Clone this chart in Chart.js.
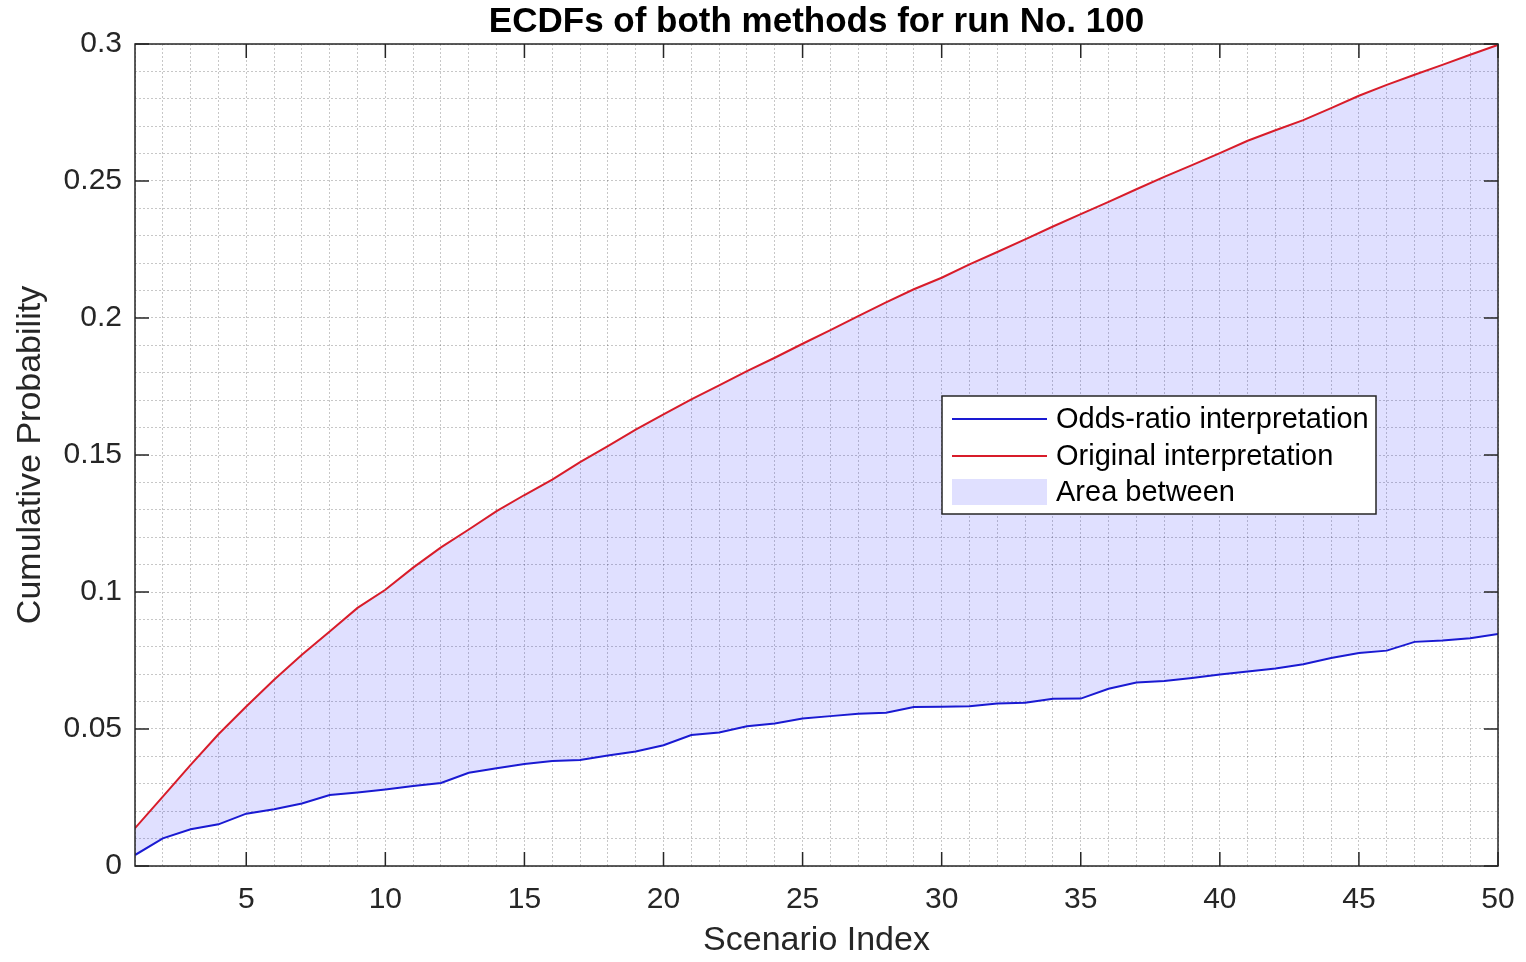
<!DOCTYPE html>
<html lang="en">
<head>
<meta charset="utf-8">
<title>ECDFs of both methods for run No. 100</title>
<script src="https://cdn.jsdelivr.net/npm/chart.js@4.4.1/dist/chart.umd.min.js"></script>
<style>
  html, body { margin: 0; padding: 0; background: #fff; }
  canvas { display: block; }
</style>
</head>
<body>
<canvas id="ecdf-chart" width="1526" height="962"></canvas>
<script>
const chartContainer = document.getElementById('ecdf-chart');

// Scenario index (x axis)
const scenarioIndex = [
    1, 2, 3, 4, 5, 6, 7, 8, 9, 10,
    11, 12, 13, 14, 15, 16, 17, 18, 19, 20,
    21, 22, 23, 24, 25, 26, 27, 28, 29, 30,
    31, 32, 33, 34, 35, 36, 37, 38, 39, 40,
    41, 42, 43, 44, 45, 46, 47, 48, 49, 50
];

// ECDF of the odds-ratio interpretation
const oddsRatioValues = [
    0.0040, 0.0101, 0.0134, 0.0152, 0.0191, 0.0207, 0.0228, 0.0259, 0.0268, 0.0279,
    0.0292, 0.0303, 0.0340, 0.0357, 0.0372, 0.0383, 0.0387, 0.0403, 0.0418, 0.0441,
    0.0478, 0.0487, 0.0510, 0.0520, 0.0538, 0.0547, 0.0556, 0.0559, 0.0580, 0.0581,
    0.0583, 0.0593, 0.0596, 0.0610, 0.0611, 0.0647, 0.0670, 0.0675, 0.0686, 0.0699,
    0.0710, 0.0721, 0.0736, 0.0759, 0.0777, 0.0786, 0.0818, 0.0823, 0.0831, 0.0847
];

// ECDF of the original interpretation
const originalValues = [
    0.0138, 0.0253, 0.0369, 0.0481, 0.0582, 0.0680, 0.0771, 0.0856, 0.0942, 0.1008,
    0.1089, 0.1163, 0.1228, 0.1295, 0.1354, 0.1410, 0.1474, 0.1532, 0.1593, 0.1648,
    0.1703, 0.1754, 0.1806, 0.1855, 0.1906, 0.1956, 0.2007, 0.2057, 0.2105, 0.2147,
    0.2196, 0.2241, 0.2287, 0.2334, 0.2379, 0.2424, 0.2470, 0.2515, 0.2558, 0.2602,
    0.2647, 0.2685, 0.2722, 0.2766, 0.2811, 0.2851, 0.2888, 0.2924, 0.2961, 0.2997
];

// Labelled (major) ticks
const xTickLabels = [5, 10, 15, 20, 25, 30, 35, 40, 45, 50];
const yTickLabels = [0, 0.05, 0.1, 0.15, 0.2, 0.25, 0.3];

// Legend entries
const legendLabels = ['Odds-ratio interpretation', 'Original interpretation', 'Area between'];

const FONT = "'Liberation Sans', Arial, Helvetica, sans-serif";
const AXIS_COLOR = '#262626';
const BLUE = '#1a1ad2';
const RED = '#d81c2a';
const AREA = 'rgba(0, 0, 255, 0.12)';
const GRID = 'rgba(0, 0, 0, 0.22)';

Chart.defaults.font.family = FONT;
Chart.defaults.color = AXIS_COLOR;

function toPoints(values) {
    return scenarioIndex.map((x, i) => ({ x: x, y: values[i] }));
}

// minor grid: every scenario on x, every 0.01 on y
function minorXTicks() {
    return scenarioIndex.map(v => ({ value: v }));
}

function minorYTicks() {
    const ticks = [];
    const last = Math.round(yTickLabels[yTickLabels.length - 1] * 100);
    for (let i = 0; i <= last; i++) ticks.push({ value: i / 100 });
    return ticks;
}

// axes box with inward major tick marks (MATLAB style)
const axesBoxPlugin = {
    id: 'axesBox',
    afterDatasetsDraw(chart) {
        const { ctx, chartArea: a, scales: { x, y } } = chart;
        const len = 14;
        ctx.save();
        ctx.strokeStyle = AXIS_COLOR;
        ctx.lineWidth = 1.5;
        ctx.beginPath();
        xTickLabels.forEach(v => {
            const px = x.getPixelForValue(v);
            ctx.moveTo(px, a.bottom);
            ctx.lineTo(px, a.bottom - len);
            ctx.moveTo(px, a.top);
            ctx.lineTo(px, a.top + len);
        });
        yTickLabels.forEach(v => {
            const py = y.getPixelForValue(v);
            ctx.moveTo(a.left, py);
            ctx.lineTo(a.left + len, py);
            ctx.moveTo(a.right, py);
            ctx.lineTo(a.right - len, py);
        });
        ctx.stroke();
        ctx.strokeRect(a.left, a.top, a.right - a.left, a.bottom - a.top);
        ctx.restore();
    }
};

// legend box inside the axes
const boxLegendPlugin = {
    id: 'boxLegend',
    afterDraw(chart) {
        const ctx = chart.ctx;
        const box = { left: 942, top: 396, width: 434, height: 118 };
        const rowY = [419, 456, 492];
        const sampleLeft = 952;
        const sampleRight = 1047;
        const textLeft = 1056;
        const colors = [BLUE, RED, AREA];

        ctx.save();
        ctx.fillStyle = '#fff';
        ctx.fillRect(box.left, box.top, box.width, box.height);
        ctx.strokeStyle = AXIS_COLOR;
        ctx.lineWidth = 1.5;
        ctx.strokeRect(box.left, box.top, box.width, box.height);

        legendLabels.forEach((label, i) => {
            if (i < 2) {
                ctx.strokeStyle = colors[i];
                ctx.lineWidth = 2;
                ctx.beginPath();
                ctx.moveTo(sampleLeft, rowY[i]);
                ctx.lineTo(sampleRight, rowY[i]);
                ctx.stroke();
            } else {
                ctx.fillStyle = colors[i];
                ctx.fillRect(sampleLeft, rowY[i] - 13, sampleRight - sampleLeft, 26);
            }
            ctx.fillStyle = '#000';
            ctx.font = '29px ' + FONT;
            ctx.textBaseline = 'middle';
            ctx.textAlign = 'left';
            ctx.fillText(label, textLeft, rowY[i] + 1);
        });
        ctx.restore();
    }
};

// チャート生成
function createChart() {
    const ctx = chartContainer.getContext('2d');
    return new Chart(ctx, {
        type: 'line',
        data: {
            datasets: [{
                label: legendLabels[0],
                data: toPoints(oddsRatioValues),
                borderColor: BLUE,
                borderWidth: 2,
                pointRadius: 0,
                tension: 0,
                fill: false
            }, {
                label: legendLabels[1],
                data: toPoints(originalValues),
                borderColor: RED,
                backgroundColor: AREA,
                borderWidth: 2,
                pointRadius: 0,
                tension: 0,
                fill: '-1'
            }]
        },
        options: {
            responsive: false,
            animation: false,
            devicePixelRatio: 1,
            layout: { padding: { top: 0, right: 28, bottom: 0, left: 0 } },
            plugins: {
                legend: { display: false },
                tooltip: { enabled: false },
                title: {
                    display: true,
                    text: 'ECDFs of both methods for run No. 100',
                    fullSize: false,
                    color: '#000',
                    font: { size: 35, weight: 'bold', family: FONT },
                    padding: { top: 1, bottom: 1 }
                }
            },
            scales: {
                x: {
                    type: 'linear',
                    min: scenarioIndex[0],
                    max: scenarioIndex[scenarioIndex.length - 1],
                    afterBuildTicks: scale => { scale.ticks = minorXTicks(); },
                    afterFit: scale => {
                        scale.height = 96;
                        scale.paddingLeft = 0;
                        scale.paddingRight = 0;
                    },
                    ticks: {
                        autoSkip: false,
                        maxRotation: 0,
                        padding: 16,
                        color: AXIS_COLOR,
                        font: { size: 30 },
                        callback: value => xTickLabels.includes(value) ? String(value) : ''
                    },
                    grid: { color: GRID, lineWidth: 1, drawTicks: false },
                    border: { display: false, dash: [2, 2] },
                    title: {
                        display: true,
                        text: 'Scenario Index',
                        color: AXIS_COLOR,
                        font: { size: 34 },
                        padding: { top: 0, bottom: 1 }
                    }
                },
                y: {
                    type: 'linear',
                    min: yTickLabels[0],
                    max: yTickLabels[yTickLabels.length - 1],
                    afterBuildTicks: scale => { scale.ticks = minorYTicks(); },
                    afterFit: scale => { scale.width = 135; },
                    ticks: {
                        autoSkip: false,
                        padding: 13,
                        color: AXIS_COLOR,
                        font: { size: 30 },
                        callback: value => {
                            const label = yTickLabels.find(l => Math.abs(l - value) < 1e-9);
                            return label === undefined ? '' : String(label);
                        }
                    },
                    grid: { color: GRID, lineWidth: 1, drawTicks: false },
                    border: { display: false, dash: [2, 2] },
                    title: {
                        display: true,
                        text: 'Cumulative Probability',
                        color: AXIS_COLOR,
                        font: { size: 34 },
                        padding: { top: 10, bottom: 0 }
                    }
                }
            }
        },
        plugins: [axesBoxPlugin, boxLegendPlugin]
    });
}

createChart();
</script>
</body>
</html>
